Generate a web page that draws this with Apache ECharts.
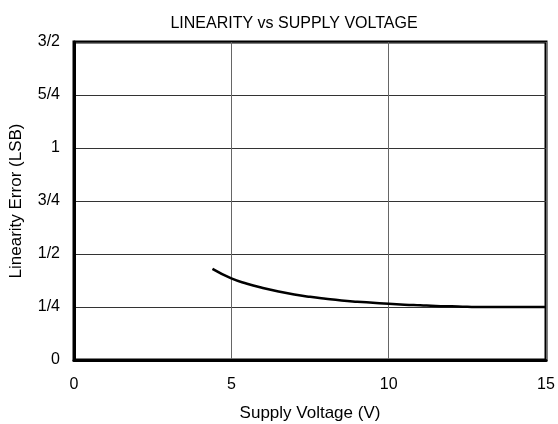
<!DOCTYPE html>
<html>
<head>
<meta charset="utf-8">
<script src="https://cdn.jsdelivr.net/npm/echarts@6/dist/echarts.min.js"></script>
<style>
  html, body { margin: 0; padding: 0; background: #fff; }
  #chart { width: 558px; height: 424px; }
</style>
</head>
<body>
<div id="chart"></div>
<script>
// supply voltage (V) and linearity error (LSB)
const voltage = [4.4, 5, 5.5, 6, 6.5, 7, 7.5, 8, 8.5, 9, 9.5, 10, 10.5, 11, 11.5, 12, 12.5, 13, 14, 15]
const linError = [0.43, 0.385, 0.36, 0.34, 0.323, 0.309, 0.298, 0.289, 0.281, 0.275, 0.27, 0.265, 0.261, 0.258, 0.255, 0.253, 0.251, 0.25, 0.25, 0.25]
const yTickLabels = ['0', '1/4', '1/2', '3/4', '1', '5/4', '3/2']

const myChart = echarts.init(document.getElementById('chart'))
const font = 'Liberation Sans, Arial, sans-serif'

const options = {
  animation: false,
  title: {
    text: 'LINEARITY vs SUPPLY VOLTAGE',
    left: 289,
    textAlign: 'center',
    top: 11,
    textStyle: { fontFamily: font, fontSize: 16, fontWeight: 'normal', color: '#000' },
  },
  grid: {
    left: 74,
    right: 12,
    top: 42,
    bottom: 64,
    outerBoundsMode: 'none',
    show: true,
    borderColor: '#000',
    borderWidth: 3,
  },
  xAxis: {
    type: 'value',
    min: 0,
    max: 15,
    interval: 5,
    name: 'Supply Voltage (V)',
    nameLocation: 'middle',
    nameGap: 45,
    nameTextStyle: { fontFamily: font, fontSize: 17, color: '#000' },
    axisLine: { show: true, lineStyle: { color: '#000', width: 3 } },
    axisTick: { show: false },
    axisLabel: { fontFamily: font, fontSize: 16, color: '#000', margin: 17 },
    splitLine: { show: true, lineStyle: { color: '#666', width: 1 } },
  },
  yAxis: {
    type: 'value',
    min: 0,
    max: 1.5,
    interval: 0.25,
    name: 'Linearity Error (LSB)',
    nameLocation: 'middle',
    nameGap: 49,
    nameTextStyle: { fontFamily: font, fontSize: 17, color: '#000' },
    axisLine: { show: true, lineStyle: { color: '#000', width: 3 } },
    axisTick: { show: false },
    axisLabel: {
      fontFamily: font,
      fontSize: 16,
      color: '#000',
      margin: 14,
      formatter: (v) => yTickLabels[Math.round(v / 0.25)],
    },
    splitLine: { show: true, lineStyle: { color: '#333', width: 1 } },
  },
  series: [
    {
      type: 'line',
      data: voltage.map((v, i) => [v, linError[i]]),
      smooth: 0.5,
      showSymbol: false,
      lineStyle: { color: '#000', width: 2.5 },
    },
  ],
}
myChart.setOption(options)
</script>
</body>
</html>
